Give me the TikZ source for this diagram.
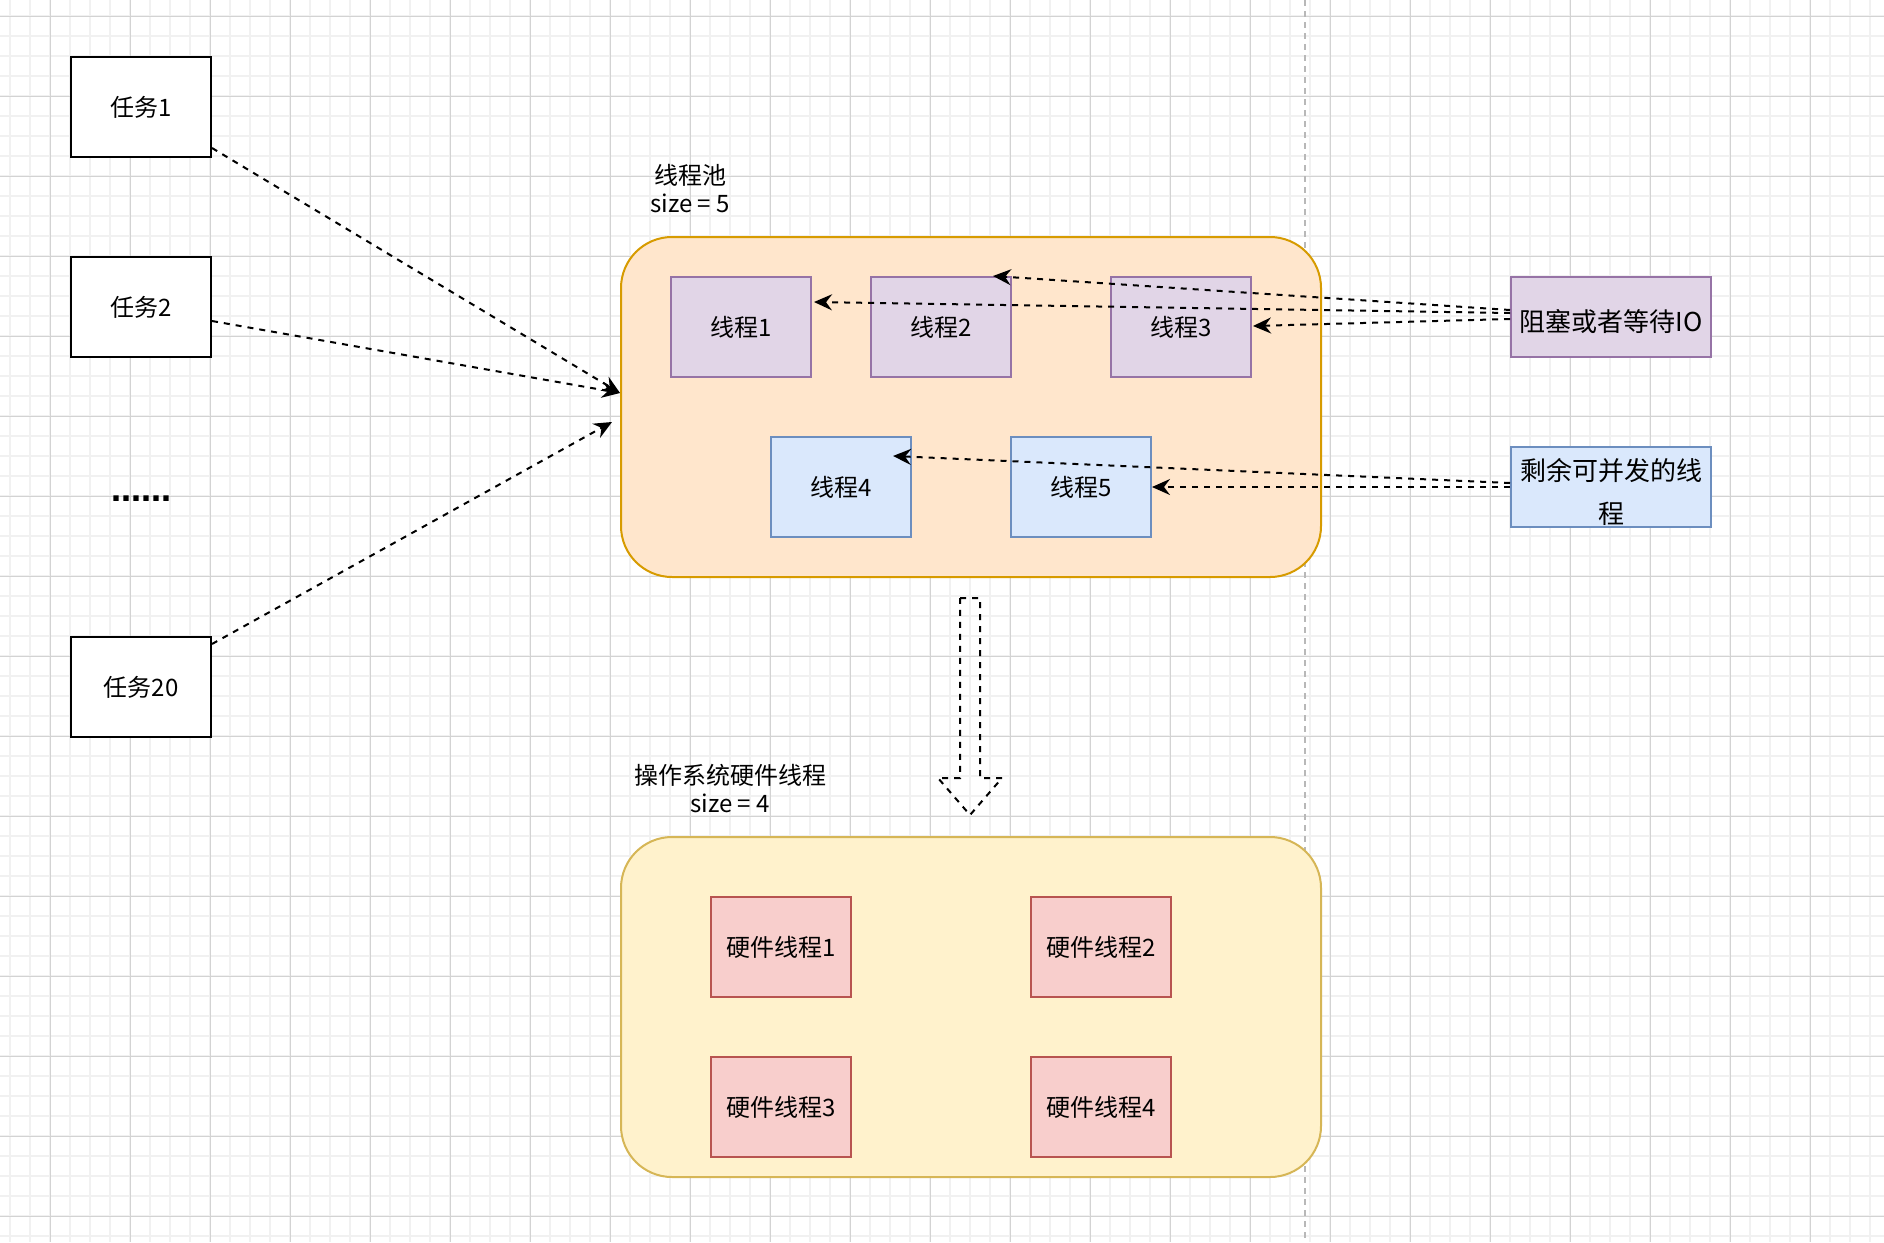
\documentclass[tikz,border=0pt]{standalone}
\usepackage{fontspec}
\setmainfont{Noto Sans CJK SC}
\newfontfamily\dejavu{DejaVu Sans}
\usetikzlibrary{arrows.meta,calc}
\definecolor{gridminor}{HTML}{F1F1F1}
\definecolor{gridmajor}{HTML}{D3D3D3}
\definecolor{vline}{HTML}{B8B8B8}
\definecolor{orfill}{HTML}{FFE6CC}
\definecolor{orstroke}{HTML}{D79B00}
\definecolor{pufill}{HTML}{E1D5E7}
\definecolor{pustroke}{HTML}{9673A6}
\definecolor{blfill}{HTML}{DAE8FC}
\definecolor{blstroke}{HTML}{6C8EBF}
\definecolor{yefill}{HTML}{FFF2CC}
\definecolor{yestroke}{HTML}{D6B656}
\definecolor{refill}{HTML}{F8CECC}
\definecolor{restroke}{HTML}{B85450}
\begin{document}
\begin{tikzpicture}[x=0.5pt,y=-0.5pt,
  txt/.style={font=\fontsize{12}{14}\selectfont, text=black},
  box/.style={txt, line width=1pt, minimum width=70pt, minimum height=50pt, inner sep=0pt},
  taskbox/.style={box, draw=black, fill=white},
  purpbox/.style={box, draw=pustroke, fill=pufill},
  bluebox/.style={box, draw=blstroke, fill=blfill},
  redbox/.style={box, draw=restroke, fill=refill},
  sidebox/.style={line width=1pt, minimum width=100pt, minimum height=40pt, inner sep=0pt},
  sidetxt/.style={font=\fontsize{13}{21.5}\selectfont, align=center, inner sep=0pt, text=black},
  poolbox/.style={line width=1pt, minimum width=350pt, minimum height=170pt, rounded corners=25.5pt, inner sep=0pt},
  conn/.style={draw=black, line width=1pt, dash pattern=on 3pt off 3pt, -{Stealth[length=9pt,width=8pt,inset=3pt]}},
  lbl/.style={txt, align=center, inner sep=0pt}
]
\useasboundingbox (0,0) rectangle (1884,1242);
\fill[white] (0,0) rectangle (1884,1242);
% grid
\foreach \x in {10,30,...,1884} \draw[gridminor, line width=0.8pt] (\x,0) -- (\x,1242);
\foreach \y in {16,36,...,1242} \draw[gridminor, line width=0.8pt] (0,\y) -- (1884,\y);
\foreach \x in {50,130,...,1884} \draw[gridmajor, line width=0.5pt] (\x,0) -- (\x,1242);
\foreach \y in {16,96,...,1242} \draw[gridmajor, line width=0.5pt] (0,\y) -- (1884,\y);
% vertical dashed separator
\draw[vline, line width=1pt, dash pattern=on 3pt off 2.5pt] (1305,0) -- (1305,1242);

% pools
\node[poolbox, draw=orstroke, fill=orfill] (pool) at (971,407) {};
\node[poolbox, draw=yestroke, fill=yefill] (ospool) at (971,1007) {};
\node[lbl] (poollbl) at (690,189) {线程池\\size = 5};
\node[lbl] (oslbl) at (730,789) {操作系统硬件线程\\size = 4};

% tasks
\node[taskbox] (task1) at (141,107) {任务1};
\node[taskbox] (task2) at (141,307) {任务2};
\node[font=\dejavu\bfseries\fontsize{15}{17}\selectfont, inner sep=0pt] (dots) at (141,499) {……};
\node[taskbox] (task20) at (141,687) {任务20};

% threads
\node[purpbox] (t1) at (741,327) {线程1};
\node[purpbox] (t2) at (941,327) {线程2};
\node[purpbox] (t3) at (1181,327) {线程3};
\node[bluebox] (t4) at (841,487) {线程4};
\node[bluebox] (t5) at (1081,487) {线程5};

% side boxes
\node[sidebox, draw=pustroke, fill=pufill] (blk) at (1611,317) {};
\node[sidetxt] (blktxt) at (1611,322) {阻塞或者等待IO};
\node[sidebox, draw=blstroke, fill=blfill] (rem) at (1611,487) {};
\node[sidetxt] (remtxt) at (1611,492) {剩余可并发的线\\程};

% hardware threads
\node[redbox] (hw1) at (781,947) {硬件线程1};
\node[redbox] (hw2) at (1101,947) {硬件线程2};
\node[redbox] (hw3) at (781,1107) {硬件线程3};
\node[redbox] (hw4) at (1101,1107) {硬件线程4};

% hollow arrow
\draw[black, line width=1pt, dash pattern=on 3pt off 3pt]
  (960,598) -- (980,598) -- (980,778) -- (1002,778) -- (970,815) -- (938,778) -- (960,778) -- cycle;

% task connectors
\draw[conn] ($(task1.south east)+(0,-10)$) -- ($(pool.west)+(0,-14)$);
\draw[conn] ($(task2.east)+(0,14)$) -- ($(pool.west)+(0,-14)$);
\draw[conn] ($(task20.north east)+(0,8)$) -- ($(pool.west)+(-8,15)$);

% blocking connectors
\draw[conn] ($(blk.west)+(0,-7)$) -- ($(t2.north east)+(-19,0)$);
\draw[conn] ($(blk.west)+(0,-4)$) -- ($(t1.east)+(2,-25)$);
\draw[conn] ($(blk.west)+(0,2)$) -- ($(t3.east)+(1,-1)$);

% remaining connectors
\draw[conn] ($(rem.west)+(0,-4)$) -- ($(t4.north east)+(-19,20)$);
\draw[conn] (rem.west) -- (t5.east);
\end{tikzpicture}
\end{document}
